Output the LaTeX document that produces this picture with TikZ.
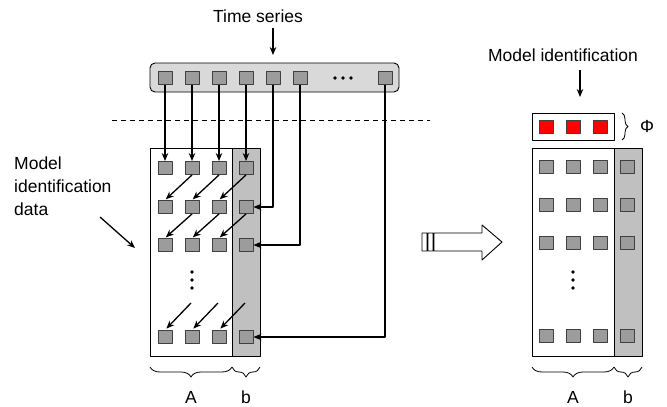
\documentclass[tikz,border=0pt]{standalone}
\usepackage{fontspec}
\setmainfont{Liberation Sans}
\usetikzlibrary{arrows.meta,decorations.pathreplacing}
\definecolor{cellgray}{HTML}{9C9C9C}
\definecolor{colgray}{HTML}{C0C0C0}
\definecolor{bargray}{HTML}{D9D9D9}
\begin{document}
\begin{tikzpicture}[x=1pt, y=-1pt, line join=round,
	cell/.style={draw=black!75, fill=cellgray, line width=0.9pt, minimum width=14pt, minimum height=13pt, inner sep=0pt},
	redcell/.style={cell, fill=red},
	arr/.style={-{Stealth[length=8pt,width=6.5pt]}, line width=1.3pt},
	brc/.style={decorate, decoration={brace, amplitude=#1}, line width=0.8pt},
	lbl/.style={font=\fontsize{17.5}{23}\selectfont, inner sep=0pt}]
	\useasboundingbox (0,0) rectangle (667,407);
	% time series bar
	\node[lbl, anchor=base] (ts) at (258,22) {Time series};
	\draw[rounded corners=5pt, fill=bargray, line width=0.9pt] (150,63) rectangle (399,92);
	\foreach \i/\x in {1/165,2/192,3/219,4/246,5/273,6/300,7/385}
		\node[cell] (s\i) at (\x,78) {};
	\foreach \x in {335,343,351}
		\fill (\x,78) circle (1.8pt);
	\coordinate (tsa) at (273,28);
	\coordinate (tsb) at (273,55);
	\draw[arr] (tsa) -- (tsb);
	\draw[dashed, dash pattern=on 5pt off 4pt, line width=0.8pt] (112,120) -- (430,120);
	% left matrix
	\fill[colgray] (232,148) rectangle (260,356);
	\draw[line width=1pt] (150,148) rectangle (260,356) (232,148) -- (232,356);
	\foreach \r/\y in {1/168,2/207,3/245,4/337}
		\foreach \c/\x in {1/165,2/192,3/219,4/246}
			\node[cell] (L-\r-\c) at (\x,\y) {};
	\foreach \y in {272,280,288}
		\fill (192,\y) circle (1.8pt);
	\foreach \i in {1,...,4}
		\draw[arr] (s\i.south) -- (L-1-\i.north);
	\draw[arr] (s5.south) |- (L-2-4.east);
	\draw[arr] (s6.south) |- (L-3-4.east);
	\draw[arr] (s7.south) |- (L-4-4.east);
	\foreach \r/\n in {1/2,2/3}
		\foreach \c/\d in {1/2,2/3,3/4}
			\draw[arr, shorten >=1pt] (L-\r-\d.south) -- (L-\n-\c.north);
	\foreach \c/\x in {1/191,2/218,3/245}{
		\coordinate (f\c) at (\x,303);
		\draw[arr, shorten >=2pt] (f\c) -- (L-4-\c.north);
	}
	\node[lbl, anchor=north west, align=left] (mid) at (14,157) {Model\\identification\\data};
	\coordinate (mia) at (100,217);
	\coordinate (mib) at (135,248);
	\draw[arr] (mia) -- (mib);
	\draw[brc=10pt] (232,367) -- (150,367);
	\draw[brc=10pt] (260,367) -- (232,367);
	\node[lbl, anchor=base] (LA) at (191,403) {A};
	\node[lbl, anchor=base] (Lb) at (246,403) {b};
	% block arrow
	\draw[fill=white, line width=0.9pt] (422,233) rectangle (427,251) (428,233) rectangle (433,251)
		(434,233) -- (482,233) -- (482,225) -- (502,242) -- (482,260) -- (482,251) -- (434,251) -- cycle;
	% right matrix
	\node[lbl, anchor=base] (mident) at (563,61) {Model identification};
	\coordinate (mda) at (580,70);
	\coordinate (mdb) at (580,97);
	\draw[arr] (mda) -- (mdb);
	\draw[line width=1pt] (532,113) rectangle (614,140);
	\foreach \c/\x in {1/546,2/573,3/600}
		\node[redcell] (P\c) at (\x,127) {};
	\draw[brc=6pt] (622,113) -- (622,140);
	\node[lbl, anchor=base] (phi) at (647,132) {Φ};
	\fill[colgray] (614,148) rectangle (642,356);
	\draw[line width=1pt] (532,148) rectangle (642,356) (614,148) -- (614,356);
	\foreach \r/\y in {1/167,2/205,3/243,4/336}
		\foreach \c/\x in {1/546,2/573,3/600,4/627}
			\node[cell] (R-\r-\c) at (\x,\y) {};
	\foreach \y in {272,280,288}
		\fill (573,\y) circle (1.8pt);
	\draw[brc=10pt] (614,367) -- (532,367);
	\draw[brc=10pt] (642,367) -- (614,367);
	\node[lbl, anchor=base] (RA) at (573,403) {A};
	\node[lbl, anchor=base] (Rb) at (628,403) {b};
\end{tikzpicture}
\end{document}
